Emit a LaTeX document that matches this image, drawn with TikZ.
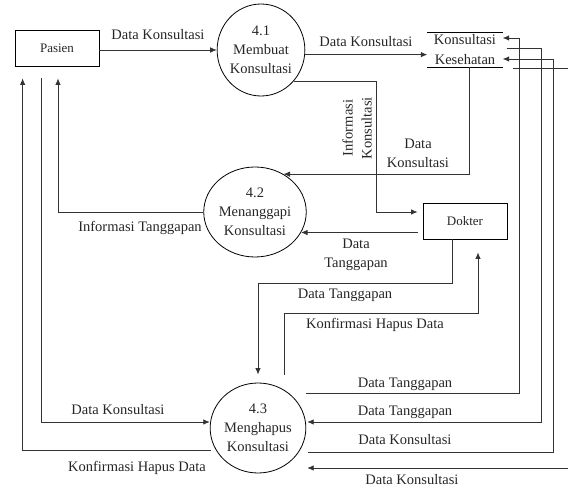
\documentclass[tikz,border=0pt]{standalone}
\usepackage{fontspec}
\setmainfont{Liberation Serif}
\newfontfamily\tnr{Liberation Serif}
\usetikzlibrary{arrows.meta,calc,shapes.geometric}
\begin{document}
\begin{tikzpicture}[x=1pt,y=-1pt,
  flow/.style={line width=0.8pt, draw=black!80},
  arr/.style={flow,-{Latex[length=6.5pt,width=5.5pt]}},
  lbl/.style={font=\tnr\fontsize{14.5}{19}\selectfont, align=center, inner sep=0pt, text=black!85},
  entity/.style={draw, line width=0.8pt, minimum width=84pt, minimum height=36pt, font=\tnr\fontsize{13}{15}\selectfont, text=black!85},
  proc/.style={ellipse, draw, line width=0.8pt, minimum width=85pt, minimum height=92pt, inner sep=0pt, align=center, font=\tnr\fontsize{14.5}{19}\selectfont, text=black!85},
  storenode/.style={minimum width=75pt, minimum height=34pt, inner sep=0pt, align=center, font=\tnr\fontsize{14.5}{20}\selectfont, text=black!85},
]
\useasboundingbox (0,0) rectangle (568,489);

% nodes
\node[entity] (pasien) at (57,48) {Pasien};
\node[proc] (p41) at (261,50) {4.1\\Membuat\\Konsultasi};
\node[storenode] (store) at (465,50) {Konsultasi\\Kesehatan};
\draw[line width=0.8pt] (store.north west) -- (store.north east);
\draw[line width=0.8pt] (store.south west) -- (store.south east);
\node[proc, minimum width=84pt, minimum height=90pt] (p42) at (255,212) {4.2\\Menanggapi\\Konsultasi};
\node[entity] (dokter) at (465,221) {Dokter};
\node[proc, minimum width=86pt, minimum height=90pt] (p43) at (258,428) {4.3\\Menghapus\\Konsultasi};

% Pasien -> 4.1
\draw[arr] (pasien.east |- p41.west) -- (p41.west);
\node[lbl] (l1) at (158,35) {Data Konsultasi};

% 4.1 -> store
\draw[arr] (p41.-6) -- (p41.-6 -| store.west);
\node[lbl] (l2) at (366,42) {Data Konsultasi};

% 4.1 -> Dokter
\draw[arr] (p41.-44) -- ($(p41.-44 -| dokter.west)+(-46,0)$) |- ($(dokter.west)+(-5,-9)$);
\node[lbl, rotate=90] (l3) at (357,128) {Informasi\\Konsultasi};

% store -> 4.2
\draw[arr] ($(store.south)+(4,0)$) |- (p42.53);
\node[lbl] (l4) at (418,153) {Data\\Konsultasi};

% Dokter -> 4.2
\draw[arr] ($(dokter.west |- p42.-24)+(-5,0)$) -- (p42.-24);
\node[lbl] (l5) at (356,255) {Data\\Tanggapan};

% 4.2 -> Pasien
\draw[arr, shorten >=12pt] (p42.west) -| ($(pasien.south)+(1,0)$);
\node[lbl] (l6) at (140,228) {Informasi Tanggapan};

% Dokter -> 4.3
\draw[arr, shorten >=8pt] ($(dokter.south)+(-13,0)$) |- ($(p43.north)+(0,-99)$) -- (p43.north);
\node[lbl] (l7) at (345,295) {Data Tanggapan};

% 4.3 -> Dokter
\draw[arr] ($(p43.north)+(26,-8)$) |- ($(dokter.south)+(13,74)$) -- ($(dokter.south)+(13,13)$);
\node[lbl] (l8) at (375,325) {Konfirmasi Hapus Data};

% 4.3 -> store (Data Tanggapan)
\draw[arr] ($(p43.east)+(0,-35)$) -| ($(store.east)+(17,-12)$) -- ($(store.east)+(0,-12)$);
\node[lbl] (l9) at (405,384) {Data Tanggapan};

% store -> 4.3 (Data Tanggapan)
\draw[arr] ($(store.east)+(4,-2)$) -| ($(p43.east)+(235,-6)$) -- ($(p43.east)+(1,-6)$);
\node[lbl] (l10) at (405,412) {Data Tanggapan};

% 4.3 -> store (Data Konsultasi)
\draw[arr] ($(p43.east)+(2,24)$) -| ($(store.east)+(51,9)$) -- ($(store.east)+(0,9)$);
\node[lbl] (l11) at (405,440) {Data Konsultasi};

% store -> 4.3 (Data Konsultasi)
\draw[arr] ($(store.east)+(10,18)$) -| ($(p43.east)+(272,40)$) -- ($(p43.east)+(1,40)$);
\node[lbl] (l12) at (412,480) {Data Konsultasi};

% Pasien -> 4.3
\draw[arr] ($(pasien.south)+(-16,12)$) |- ($(p43.west)+(0,-6)$);
\node[lbl] (l13) at (118,410) {Data Konsultasi};

% 4.3 -> Pasien
\draw[arr, shorten >=12pt] ($(p43.west)+(1,22)$) -| ($(pasien.south west)+(8,0)$);
\node[lbl] (l14) at (137,468) {Konfirmasi Hapus Data};
\end{tikzpicture}
\end{document}
